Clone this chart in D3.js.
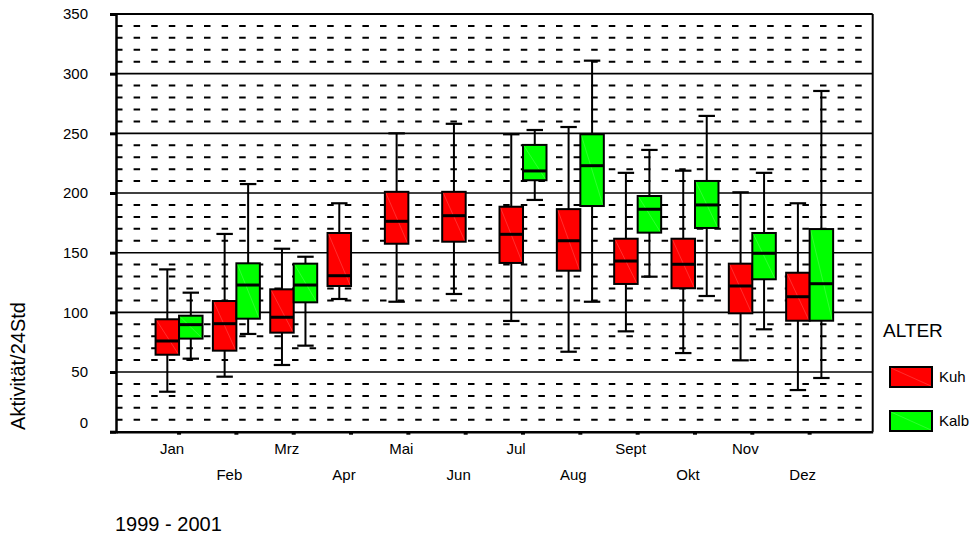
<!DOCTYPE html>
<html>
<head>
<meta charset="utf-8">
<script src="https://cdn.jsdelivr.net/npm/d3@7"></script>
<style>
  body { margin: 0; background: #fff; }
  text { font-family: "Liberation Sans", Arial, sans-serif; fill: #000; }
</style>
</head>
<body>
<svg id="chart" width="973" height="536"></svg>
<script>
// Monthly activity per 24 h, cows (Kuh) vs calves (Kalb), 1999 - 2001
const months = ["Jan", "Feb", "Mrz", "Apr", "Mai", "Jun", "Jul", "Aug", "Sept", "Okt", "Nov", "Dez"];
const groups = ["Kuh", "Kalb"];
const groupColors = ["#ff0000", "#00ff00"];

// Box plot statistics: lower whisker, Q1, median, Q3, upper whisker
const kuhMin    = [33.5, 46.1, 55.9, 111.2, 108.9, 115.4,  92.8,  67.0,  84.1,  65.9,  59.8,  34.9];
const kuhQ1     = [64.5, 67.9, 83.0, 122.1, 157.5, 159.2, 141.4, 134.9, 123.8, 120.2,  99.2,  93.0];
const kuhMedian = [76.0, 90.5, 95.9, 130.7, 176.3, 181.0, 165.4, 160.0, 143.0, 140.3, 122.1, 113.1];
const kuhQ3     = [94.2, 109.5, 119.3, 166.5, 201.0, 201.0, 188.5, 186.5, 161.7, 161.7, 140.8, 133.2];
const kuhMax    = [136.0, 165.7, 153.3, 191.4, 250.0, 258.0, 249.2, 255.3, 216.9, 218.7, 200.6, 191.4];

const kalbMin    = [61.2, 81.9, 72.1, null, null, null, 194.2, 108.9, 129.9, 113.7,  85.8,  45.0];
const kalbQ1     = [78.0, 94.7, 108.4, null, null, null, 210.7, 189.1, 166.8, 170.7, 127.7,  93.0];
const kalbMedian = [89.7, 122.9, 122.9, null, null, null, 218.5, 222.9, 186.4, 190.0, 149.5, 124.0];
const kalbQ3     = [97.2, 141.1, 140.8, null, null, null, 240.3, 249.2, 197.5, 210.1, 166.5, 169.8];
const kalbMax    = [116.5, 207.5, 146.6, null, null, null, 252.8, 310.9, 236.1, 264.6, 216.9, 285.5];

const yTicks = [0, 50, 100, 150, 200, 250, 300, 350];
const yTitle = "Aktivität/24Std";
const legendTitle = "ALTER";
const footnote = "1999 - 2001";

const statsBy = {
  Kuh:  [kuhMin, kuhQ1, kuhMedian, kuhQ3, kuhMax],
  Kalb: [kalbMin, kalbQ1, kalbMedian, kalbQ3, kalbMax]
};

const boxes = [];
groups.forEach((g, gi) => {
  const [mn, q1, md, q3, mx] = statsBy[g];
  months.forEach((m, i) => {
    if (md[i] == null) return;
    boxes.push({ month: m, group: g, color: groupColors[gi],
                 min: mn[i], q1: q1[i], median: md[i], q3: q3[i], max: mx[i] });
  });
});

const svg = d3.select("#chart");
const plotLeft = 116, plotRight = 872.7, plotTop = 14, plotBottom = 431.7;

const x = d3.scaleBand().domain(months).range([plotLeft, plotRight]).paddingOuter(0.6).paddingInner(0);
const xg = d3.scaleBand().domain(groups).range([0, x.bandwidth()]).paddingOuter(0.22).paddingInner(0);
const y = d3.scaleLinear().domain([0, 350]).range([plotBottom, plotTop]);

// Grid: dashed every 10, solid every 50
const minor = d3.range(10, 350, 10).filter(v => v % 50 !== 0);
const major = d3.range(50, 350, 50);
const grid = svg.append("g");
grid.selectAll("line.minor").data(minor).join("line").attr("class", "minor")
  .attr("x1", plotLeft).attr("x2", plotRight)
  .attr("y1", d => y(d)).attr("y2", d => y(d))
  .attr("stroke", "#000").attr("stroke-width", 2)
  .attr("stroke-dasharray", "6.5,11.1");
grid.selectAll("line.major").data(major).join("line").attr("class", "major")
  .attr("x1", plotLeft).attr("x2", plotRight)
  .attr("y1", d => y(d)).attr("y2", d => y(d))
  .attr("stroke", "#000").attr("stroke-width", 1.6);

// Frame (top and right)
svg.append("line").attr("x1", plotLeft).attr("x2", plotRight).attr("y1", y(350)).attr("y2", y(350))
  .attr("stroke", "#000").attr("stroke-width", 2);
svg.append("line").attr("x1", plotRight).attr("x2", plotRight).attr("y1", plotTop).attr("y2", plotBottom)
  .attr("stroke", "#000").attr("stroke-width", 2);

// Boxes
const bw = xg.bandwidth();
const capW = bw * 0.7;
const gBox = svg.append("g").selectAll("g").data(boxes).join("g")
  .attr("transform", d => `translate(${x(d.month) + xg(d.group)},0)`);

gBox.append("line")
  .attr("x1", bw / 2).attr("x2", bw / 2)
  .attr("y1", d => y(d.min)).attr("y2", d => y(d.max))
  .attr("stroke", "#000").attr("stroke-width", 2);
gBox.append("line")
  .attr("x1", (bw - capW) / 2).attr("x2", (bw + capW) / 2)
  .attr("y1", d => y(d.max)).attr("y2", d => y(d.max))
  .attr("stroke", "#000").attr("stroke-width", 2.2);
gBox.append("line")
  .attr("x1", (bw - capW) / 2).attr("x2", (bw + capW) / 2)
  .attr("y1", d => y(d.min)).attr("y2", d => y(d.min))
  .attr("stroke", "#000").attr("stroke-width", 2.2);
gBox.append("rect")
  .attr("x", 0).attr("width", bw)
  .attr("y", d => y(d.q3)).attr("height", d => y(d.q1) - y(d.q3))
  .attr("fill", d => d.color).attr("stroke", "#000").attr("stroke-width", 2);
gBox.append("line")
  .attr("x1", 1).attr("x2", bw - 1)
  .attr("y1", d => y(d.q3) + 1).attr("y2", d => y(d.q1) - 1)
  .attr("stroke", "#fff").attr("stroke-opacity", 0.3).attr("stroke-width", 0.6);
gBox.append("line")
  .attr("x1", 0).attr("x2", bw)
  .attr("y1", d => y(d.median)).attr("y2", d => y(d.median))
  .attr("stroke", "#000").attr("stroke-width", 3);

// Y axis
const yAxis = svg.append("g").attr("transform", `translate(${plotLeft},0)`)
  .call(d3.axisLeft(y).tickValues(yTicks).tickSize(6).tickPadding(22));
yAxis.select(".domain").attr("stroke", "#000").attr("stroke-width", 2.5);
yAxis.selectAll(".tick line").attr("stroke", "#000").attr("stroke-width", 3);
yAxis.selectAll(".tick text")
  .attr("font-size", 15).attr("font-family", "Liberation Sans, Arial, sans-serif")
  .attr("dy", d => d === 0 ? "-0.3em" : "0.32em");

// X axis with staggered labels
const xAxis = svg.append("g").attr("transform", `translate(0,${plotBottom})`)
  .call(d3.axisBottom(x).tickSize(3).tickSizeOuter(0));
xAxis.select(".domain").attr("stroke", "#000").attr("stroke-width", 2.5);
xAxis.selectAll(".tick line").attr("stroke", "#000").attr("stroke-width", 3)
  .attr("x1", -2).attr("x2", 2).attr("y1", 1.5).attr("y2", 1.5);
xAxis.selectAll(".tick text")
  .attr("font-size", 15).attr("font-family", "Liberation Sans, Arial, sans-serif")
  .attr("x", -7)
  .attr("y", (d, i) => i % 2 === 0 ? 12 : 38)
  .attr("dy", "0.71em");

// Axis title
svg.append("text")
  .attr("transform", "translate(25,366) rotate(-90)")
  .attr("text-anchor", "middle")
  .attr("font-size", 20)
  .text(yTitle);

// Footnote
svg.append("text").attr("x", 115).attr("y", 531).attr("font-size", 20).text(footnote);

// Legend
const legend = svg.append("g");
legend.append("text").attr("x", 883).attr("y", 337).attr("font-size", 19).text(legendTitle);
const li = legend.selectAll("g.item").data(groups).join("g").attr("class", "item")
  .attr("transform", (d, i) => `translate(890,${367 + i * 44})`);
li.append("rect").attr("width", 42).attr("height", 20)
  .attr("fill", (d, i) => groupColors[i]).attr("stroke", "#000").attr("stroke-width", 2);
li.append("line").attr("x1", 1).attr("y1", 1).attr("x2", 41).attr("y2", 19)
  .attr("stroke", "#fff").attr("stroke-opacity", 0.3).attr("stroke-width", 0.6);
li.append("text").attr("x", 49).attr("y", 15).attr("font-size", 15).text(d => d);
</script>
</body>
</html>
